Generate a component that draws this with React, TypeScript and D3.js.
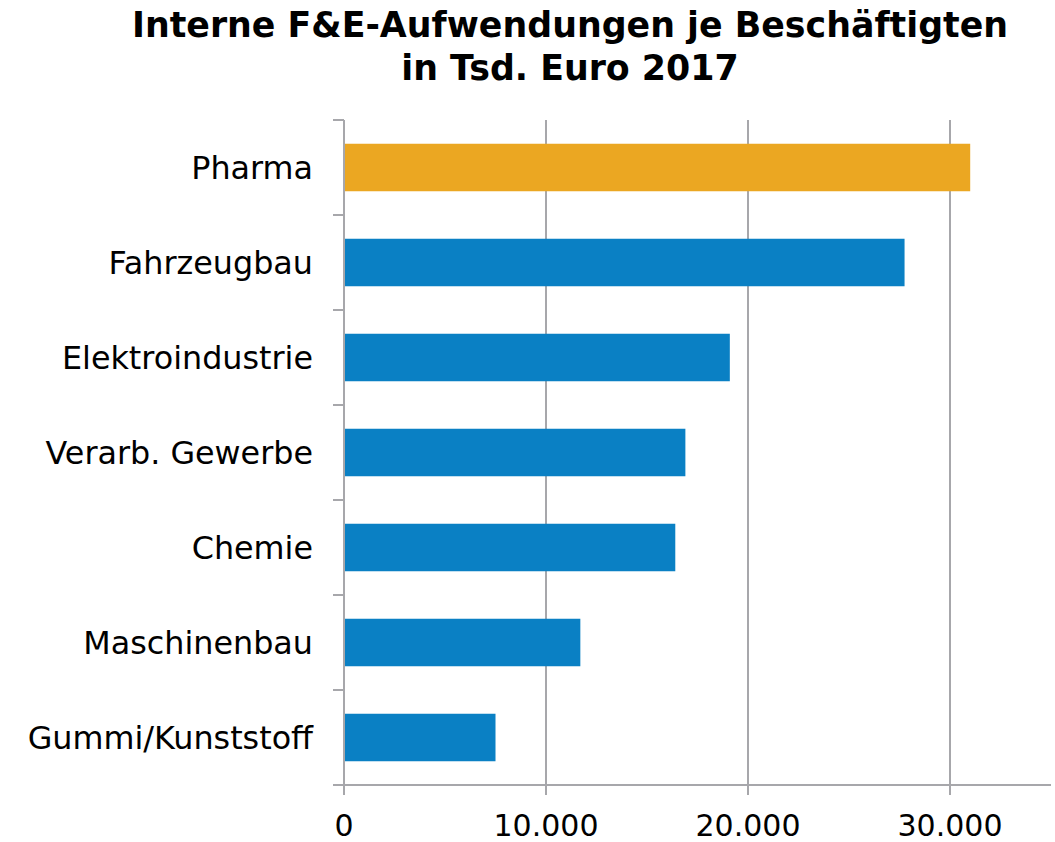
import React from "react";
import * as d3 from "d3";

const categories = ["Pharma", "Fahrzeugbau", "Elektroindustrie", "Verarb. Gewerbe", "Chemie", "Maschinenbau", "Gummi/Kunststoff"];
const values = [31000, 27750, 19100, 16900, 16400, 11700, 7500];
const highlight = ["Pharma"];
const xTicks = [0, 10000, 20000, 30000];
const titleLines = ["Interne F&E-Aufwendungen je Beschäftigten", "in Tsd. Euro 2017"];

const W = 1055, H = 842;
const M = { left: 344, right: 1051, top: 120, bottom: 785 };
const GRID = "#a7a7ab";
const FONT = "'DejaVu Sans', Verdana, sans-serif";

export default function App() {
  const x = d3.scaleLinear().domain([0, 35000]).range([M.left, M.right]);
  const y = d3.scaleBand<string>().domain(categories).range([M.top, M.bottom]).paddingInner(0.5).paddingOuter(0.25);
  const band = d3.scaleBand<string>().domain(categories).range([M.top, M.bottom]);
  const fmt = (v: number) => d3.format(",")(v).replace(/,/g, ".");
  const boundaries = categories.map((c) => band(c) as number).concat([M.bottom]);

  return (
    <svg width={W} height={H} style={{ position: "absolute", left: 0, top: 0, background: "#fff" }} fontFamily={FONT}>
      {titleLines.map((t, i) => (
        <text key={t} x={570} y={37 + i * 43} textAnchor="middle" fontWeight="bold" fontSize={34.8} fill="#000">
          {t}
        </text>
      ))}
      {xTicks.filter((t) => t > 0).map((t) => (
        <line key={"g" + t} x1={x(t)} x2={x(t)} y1={M.top} y2={M.bottom} stroke={GRID} strokeWidth={2} />
      ))}
      {categories.map((c, i) => (
        <rect
          key={c}
          x={x(0)}
          y={y(c)}
          width={x(values[i]) - x(0)}
          height={y.bandwidth()}
          fill={highlight.includes(c) ? "#EBA722" : "#0A80C4"}
        />
      ))}
      <line x1={M.left} x2={M.left} y1={M.top} y2={M.bottom + 10} stroke={GRID} strokeWidth={2} />
      {boundaries.map((b, i) => (
        <line key={"lt" + i} x1={M.left - 11} x2={M.left} y1={b} y2={b} stroke={GRID} strokeWidth={2} />
      ))}
      <line x1={M.left} x2={M.right} y1={M.bottom} y2={M.bottom} stroke={GRID} strokeWidth={2} />
      {xTicks.map((t) => (
        <g key={"t" + t}>
          <line x1={x(t)} x2={x(t)} y1={M.bottom} y2={M.bottom + 10} stroke={GRID} strokeWidth={2} />
          <text x={x(t)} y={836} textAnchor="middle" fontSize={30} fill="#000">
            {fmt(t)}
          </text>
        </g>
      ))}
      {categories.map((c) => (
        <text key={"l" + c} x={313} y={(band(c) as number) + band.bandwidth() / 2 + 11} textAnchor="end" fontSize={31.8} fill="#000">
          {c}
        </text>
      ))}
    </svg>
  );
}
